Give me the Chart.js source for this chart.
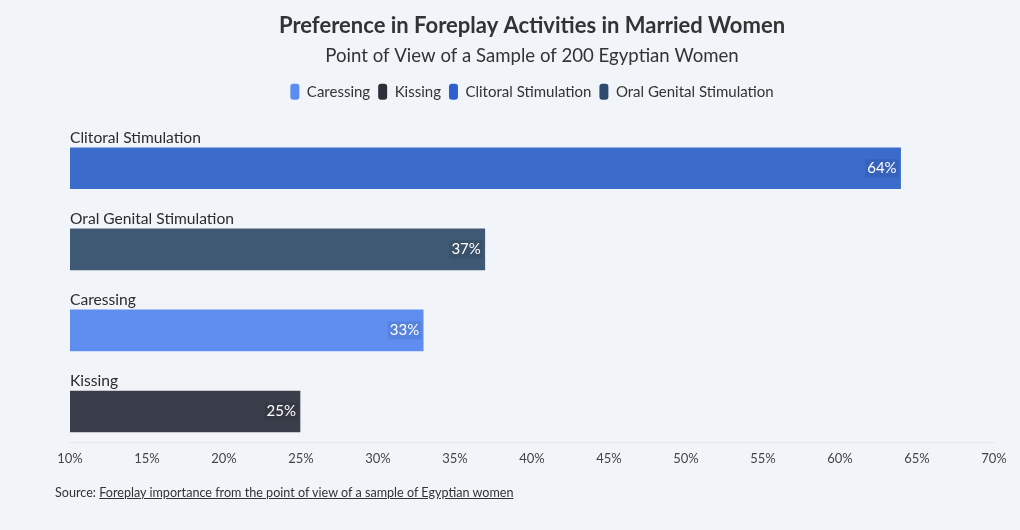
<!DOCTYPE html>
<html>
<head>
<meta charset="utf-8">
<script src="https://cdn.jsdelivr.net/npm/chart.js@4.4.0/dist/chart.umd.min.js"></script>
<style>
  body { margin: 0; background: #f1f4f9; font-family: Lato, sans-serif; }
  #wrap { position: relative; width: 1020px; height: 530px; }
  #source { position: absolute; left: 55px; top: 485px; font-size: 12.6px; color: #333; }
  #source a { color: #333; text-decoration: underline; }
</style>
</head>
<body>
<div id="wrap">
  <canvas id="chart" width="1020" height="530"></canvas>
  <div id="source">Source: <a href="#">Foreplay importance from the point of view of a sample of Egyptian women</a></div>
</div>
<script>
const categories = ['Clitoral Stimulation', 'Oral Genital Stimulation', 'Caressing', 'Kissing'];
const values = [64, 37, 33, 25];
const barColors = ['#3b6bcb', '#3f5873', '#5f8ef0', '#3a3e4a'];
const legendNames = ['Caressing', 'Kissing', 'Clitoral Stimulation', 'Oral Genital Stimulation'];
const legendColors = ['#5b8cf0', '#2d303b', '#2f5fcf', '#2e4a6e'];
const tickLabels = ['10%', '15%', '20%', '25%', '30%', '35%', '40%', '45%', '50%', '55%', '60%', '65%', '70%'];

// extra room between legend and bars
const legendGap = {
    id: 'legendGap',
    beforeInit(chart) {
        const fit = chart.legend.fit;
        chart.legend.fit = function () {
            fit.bind(chart.legend)();
            this.height += 18;
        };
    }
};

// labels above bars, value tags at the bar ends, x tick labels
const barText = {
    id: 'barText',
    afterDatasetsDraw(chart) {
        const ctx = chart.ctx;
        const meta = chart.getDatasetMeta(0);
        ctx.save();
        meta.data.forEach((bar, i) => {
            const top = bar.y - bar.height / 2;
            ctx.font = '15.6px Lato, sans-serif';
            ctx.fillStyle = '#2b2b2b';
            ctx.textAlign = 'left';
            ctx.textBaseline = 'bottom';
            ctx.fillText(categories[i], chart.chartArea.left, top - 1);

            ctx.font = '15px Lato, sans-serif';
            const txt = values[i] + '%';
            const w = ctx.measureText(txt).width;
            ctx.fillStyle = 'rgba(0,0,0,0.08)';
            ctx.fillRect(bar.x - w - 7, bar.y - 9, w + 4, 18);
            ctx.fillStyle = '#ffffff';
            ctx.textAlign = 'right';
            ctx.textBaseline = 'middle';
            ctx.fillText(txt, bar.x - 5, bar.y);
        });
        // faint baseline under the last bar
        const last = meta.data[meta.data.length - 1];
        const y = Math.round(last.y + last.height / 2 + 9) + 0.5;
        ctx.strokeStyle = '#e3e7ee';
        ctx.lineWidth = 1;
        ctx.beginPath();
        ctx.moveTo(chart.chartArea.left, y);
        ctx.lineTo(chart.chartArea.right, y);
        ctx.stroke();

        // tick labels just under the baseline
        const xs = chart.scales.x;
        ctx.font = '13px Lato, sans-serif';
        ctx.fillStyle = '#444';
        ctx.textAlign = 'center';
        ctx.textBaseline = 'middle';
        xs.ticks.forEach((t, i) => {
            ctx.fillText(tickLabels[i], xs.getPixelForValue(t.value), y + 16);
        });
        ctx.restore();
    }
};

const ctx = document.getElementById('chart').getContext('2d');
new Chart(ctx, {
    type: 'bar',
    data: {
        labels: categories,
        datasets: [{
            label: 'Share',
            data: values,
            backgroundColor: barColors,
            borderColor: 'rgba(255,255,255,0.25)',
            borderWidth: 1,
            barThickness: 43
        }]
    },
    options: {
        indexAxis: 'y',
        responsive: false,
        animation: false,
        layout: { padding: { left: 70, right: 26, top: 0, bottom: 70 } },
        scales: {
            x: {
                min: 10, max: 70,
                ticks: { stepSize: 5, display: false },
                grid: { display: false },
                border: { display: false }
            },
            y: { display: false }
        },
        plugins: {
            title: {
                display: true,
                text: 'Preference in Foreplay Activities in Married Women',
                color: '#333',
                font: { family: 'Lato', size: 22, weight: 'bold' },
                padding: { top: 13, bottom: 5 }
            },
            subtitle: {
                display: true,
                text: 'Point of View of a Sample of 200 Egyptian Women',
                color: '#333',
                font: { family: 'Lato', size: 18.6 },
                padding: { bottom: 9 }
            },
            legend: {
                labels: {
                    color: '#333',
                    font: { family: 'Lato', size: 15 },
                    boxWidth: 9,
                    boxHeight: 16,
                    padding: 8,
                    useBorderRadius: true,
                    borderRadius: 3,
                    generateLabels: () => legendNames.map((n, i) => ({
                        text: n,
                        fillStyle: legendColors[i],
                        strokeStyle: legendColors[i],
                        lineWidth: 0,
                        borderRadius: 3,
                        fontColor: '#333'
                    }))
                },
                onClick: null
            },
            tooltip: { enabled: false }
        }
    },
    plugins: [legendGap, barText]
});
</script>
</body>
</html>
